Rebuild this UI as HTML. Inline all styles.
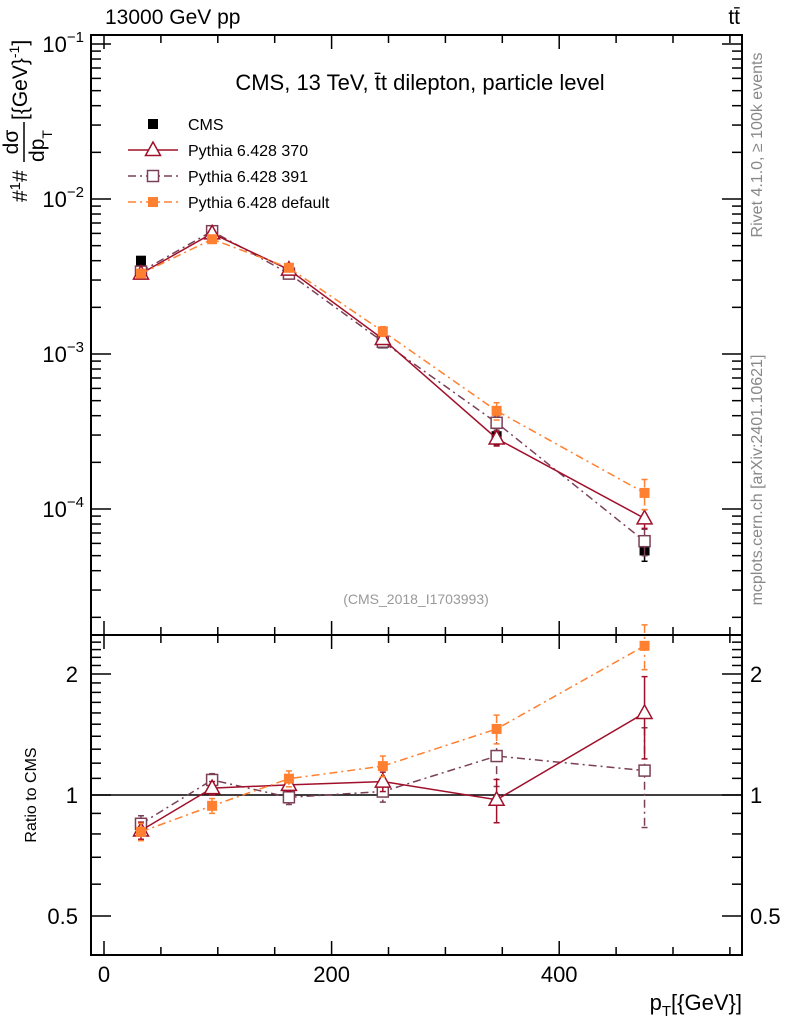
<!DOCTYPE html>
<html><head><meta charset="utf-8"><style>
body{margin:0;background:#fff;width:786px;height:1024px;overflow:hidden}
svg{font-family:"Liberation Sans",sans-serif}
</style></head><body>
<svg id="c" width="786" height="1024"></svg>
<script>
const binCenters=[32.5,95,162.5,245,345,475];
const cmsVals=[4.0e-3,5.7e-3,3.3e-3,1.17e-3,2.95e-4,5.4e-5];
const cmsErr=[0.15e-3,0.2e-3,0.12e-3,0.05e-3,0.35e-4,0.8e-5];
const p370Vals=[3.3e-3,6.0e-3,3.5e-3,1.25e-3,2.85e-4,8.7e-5];
const p370Err=[0.1e-3,0.15e-3,0.1e-3,0.06e-3,0.3e-4,1.2e-5];
const p391Vals=[3.4e-3,6.2e-3,3.3e-3,1.2e-3,3.6e-4,6.2e-5];
const p391Err=[0.1e-3,0.15e-3,0.1e-3,0.06e-3,0.4e-4,1.2e-5];
const pdefVals=[3.3e-3,5.5e-3,3.6e-3,1.4e-3,4.3e-4,1.27e-4];
const pdefErr=[0.1e-3,0.15e-3,0.12e-3,0.1e-3,0.55e-4,2.8e-5];
const p370Ratio=[0.816,1.04,1.06,1.08,0.973,1.60];
const p370RErr=[0.04,0.04,0.04,0.06,0.12,0.37];
const p391Ratio=[0.848,1.09,0.987,1.02,1.25,1.15];
const p391RErr=[0.04,0.04,0.04,0.06,0.2,0.32];
const pdefRatio=[0.81,0.94,1.098,1.18,1.46,2.35];
const pdefRErr=[0.04,0.04,0.05,0.07,0.12,0.3];
const xTicks=[0,200,400];
const yTicksMain=[-1,-2,-3,-4];
const yTicksRatio=[2,1,0.5];

const NS="http://www.w3.org/2000/svg";
const svg=document.getElementById('c');
const L=91,R=742,T1=35,B1=635,T2=635,B2=955;
const X=v=>104+v*1.138;
const Y=v=>199-(Math.log10(v)+2)*155;
const YR=v=>795-Math.log10(v)*402;
function mk(tag,a,p){const e=document.createElementNS(NS,tag);for(const k in a)e.setAttribute(k,a[k]);(p||svg).appendChild(e);return e;}

let f1=mk('rect',{x:L,y:T1,width:R-L,height:B1-T1,fill:'none',stroke:'#000','stroke-width':2});

let f2=mk('rect',{x:L,y:T2,width:R-L,height:B2-T2,fill:'none',stroke:'#000','stroke-width':2});


for(let v=0;v<=550;v+=50){const maj=v%200===0;const len=maj?14:8;
 for(const [t,b] of [[T1,B1],[T2,B2]]){mk('line',{x1:X(v),x2:X(v),y1:b,y2:b-len,stroke:'#000','stroke-width':1.5});mk('line',{x1:X(v),x2:X(v),y1:t,y2:t+len,stroke:'#000','stroke-width':1.5});}}
xTicks.forEach(v=>{const t=mk('text',{x:X(v),y:982,'font-size':22,'text-anchor':'middle'});t.textContent=v;
});
for(let d=-5;d<=-1;d++)for(let m=1;m<10;m++){const v=m*Math.pow(10,d);const y=Y(v);if(y<T1||y>B1)continue;const len=m===1?20:10;
 mk('line',{x1:L,x2:L+len,y1:y,y2:y,stroke:'#000','stroke-width':1.5});mk('line',{x1:R,x2:R-len,y1:y,y2:y,stroke:'#000','stroke-width':1.5});}
yTicksMain.forEach(e=>{const t=mk('text',{x:84,y:Y(Math.pow(10,e))+8,'font-size':22,'text-anchor':'end'});
t.innerHTML='10<tspan dy="-10" font-size="15">−'+(-e)+'</tspan>';});
for(const v of [0.4,0.5,0.6,0.7,0.8,0.9,1,1.1,1.2,1.3,1.4,1.5,1.6,1.7,1.8,1.9,2,2.1,2.2,2.3,2.4]){const y=YR(v);if(y<T2||y>B2)continue;const len=[0.5,1,2].includes(v)?20:10;
 mk('line',{x1:L,x2:L+len,y1:y,y2:y,stroke:'#000','stroke-width':1.5});mk('line',{x1:R,x2:R-len,y1:y,y2:y,stroke:'#000','stroke-width':1.5});}
yTicksRatio.forEach(v=>{const t=mk('text',{x:78,y:YR(v)+8,'font-size':22,'text-anchor':'end'});t.textContent=v;
const t2=mk('text',{x:750,y:YR(v)+8,'font-size':22});t2.textContent=v;});
mk('line',{x1:L,x2:R,y1:YR(1),y2:YR(1),stroke:'#000','stroke-width':1.5});

function marker(kind,x,y,col,p){
 if(kind==='sq')mk('rect',{x:x-5,y:y-5,width:10,height:10,fill:col},p);
 else if(kind==='osq')mk('rect',{x:x-5.5,y:y-5.5,width:11,height:11,fill:'#fff',stroke:col,'stroke-width':1.5},p);
 else mk('polygon',{points:`${x},${y-8} ${x-7.5},${y+5.5} ${x+7.5},${y+5.5}`,fill:'#fff',stroke:col,'stroke-width':1.5},p);}
function series(name,vals,err,yf,col,dash,kind,line){
 const g=mk('g',{});
 if(line)mk('polyline',{points:vals.map((v,i)=>X(binCenters[i])+','+yf(v)).join(' '),fill:'none',stroke:col,'stroke-width':1.5,'stroke-dasharray':dash},g);
 vals.forEach((v,i)=>{const x=X(binCenters[i]);if(err){const e=err[i];const y1=yf(v+e),y2=yf(Math.max(v-e,1e-9));
  mk('line',{x1:x,x2:x,y1:y1,y2:y2,stroke:col,'stroke-width':1.5,'stroke-dasharray':dash},g);mk('line',{x1:x-3,x2:x+3,y1:y1,y2:y1,stroke:col,'stroke-width':1.5},g);mk('line',{x1:x-3,x2:x+3,y1:y2,y2:y2,stroke:col,'stroke-width':1.5},g);}
  marker(kind,x,yf(v),col,g);});}
const c370='#a0102a',c391='#7a4057',cdef='#ff8030';
series('cms-data',cmsVals,cmsErr,Y,'#000','',"sq",false);
series('pythia-391-line',p391Vals,p391Err,Y,c391,'8,4,2,4','osq',true);
series('pythia-370-line',p370Vals,p370Err,Y,c370,'','tri',true);
series('pythia-default-line',pdefVals,pdefErr,Y,cdef,'8,4,2,4','sq',true);
series('ratio-391',p391Ratio,p391RErr,YR,c391,'8,4,2,4','osq',true);
series('ratio-370',p370Ratio,p370RErr,YR,c370,'','tri',true);
series('ratio-default',pdefRatio,pdefRErr,YR,cdef,'8,4,2,4','sq',true);

const leg=[['CMS','#000','','sq',false],['Pythia 6.428 370',c370,'','tri',true],['Pythia 6.428 391',c391,'8,4,2,4','osq',true],['Pythia 6.428 default',cdef,'8,4,2,4','sq',true]];
leg.forEach((l,i)=>{const y=124+i*26;const g=mk('g',{});
 if(l[4])mk('line',{x1:128,x2:178,y1:y,y2:y,stroke:l[1],'stroke-width':1.5,'stroke-dasharray':l[2]},g);
 marker(l[3],153,y,l[1],g);const t=mk('text',{x:188,y:y+6,'font-size':16},g);t.textContent=l[0];});
function txt(s,a,name){const t=mk('text',a);t.innerHTML=s;return t;}
txt('CMS, 13 TeV, t̄t dilepton, particle level',{x:420,y:90,'font-size':22,'text-anchor':'middle'},'plot-title');
txt('13000 GeV pp',{x:105,y:24,'font-size':21},'beam-label');
txt('tt̄',{x:740,y:24,'font-size':21,'text-anchor':'end'},'process-label');
txt('(CMS_2018_I1703993)',{x:416,y:604,'font-size':14,'text-anchor':'middle',fill:'#999'},'analysis-label');
txt('Rivet 4.1.0, ≥ 100k events',{x:0,y:0,'font-size':16,fill:'#888','text-anchor':'middle',transform:'translate(762,145) rotate(-90)'},'rivet-label');
txt('mcplots.cern.ch [arXiv:2401.10621]',{x:0,y:0,'font-size':16,fill:'#888','text-anchor':'middle',transform:'translate(762,480) rotate(-90)'},'mcplots-label');
// y-axis title (rotated; text runs upward)
const yt=mk('g',{});
mk('text',{x:0,y:0,'font-size':21,'text-anchor':'start',transform:'translate(27,202) rotate(-90)'},yt).innerHTML='#<tspan font-size="15" dy="-7">1</tspan><tspan dy="7">#</tspan>';
mk('text',{x:0,y:0,'font-size':21,'text-anchor':'start',transform:'translate(27,120) rotate(-90)'},yt).innerHTML='[{GeV}<tspan dy="-8" font-size="14">-1</tspan><tspan dy="8">]</tspan>';
mk('text',{x:0,y:0,'font-size':21,'text-anchor':'middle',transform:'translate(18,142) rotate(-90)'},yt).textContent='dσ';
mk('line',{x1:24,x2:24,y1:122,y2:162,stroke:'#000','stroke-width':1.5},yt);
mk('text',{x:0,y:0,'font-size':21,'text-anchor':'middle',transform:'translate(44,146) rotate(-90)'},yt).innerHTML='dp<tspan font-size="14" dy="8">T</tspan>';
txt('Ratio to CMS',{x:0,y:0,'font-size':16,'text-anchor':'middle',transform:'translate(36,795) rotate(-90)'},'ratio-axis-title');
txt('p<tspan font-size="15" dy="6">T</tspan><tspan dy="-6">[{GeV}]</tspan>',{x:742,y:1010,'font-size':22,'text-anchor':'end'},'x-axis-title');
</script>
</body></html>
